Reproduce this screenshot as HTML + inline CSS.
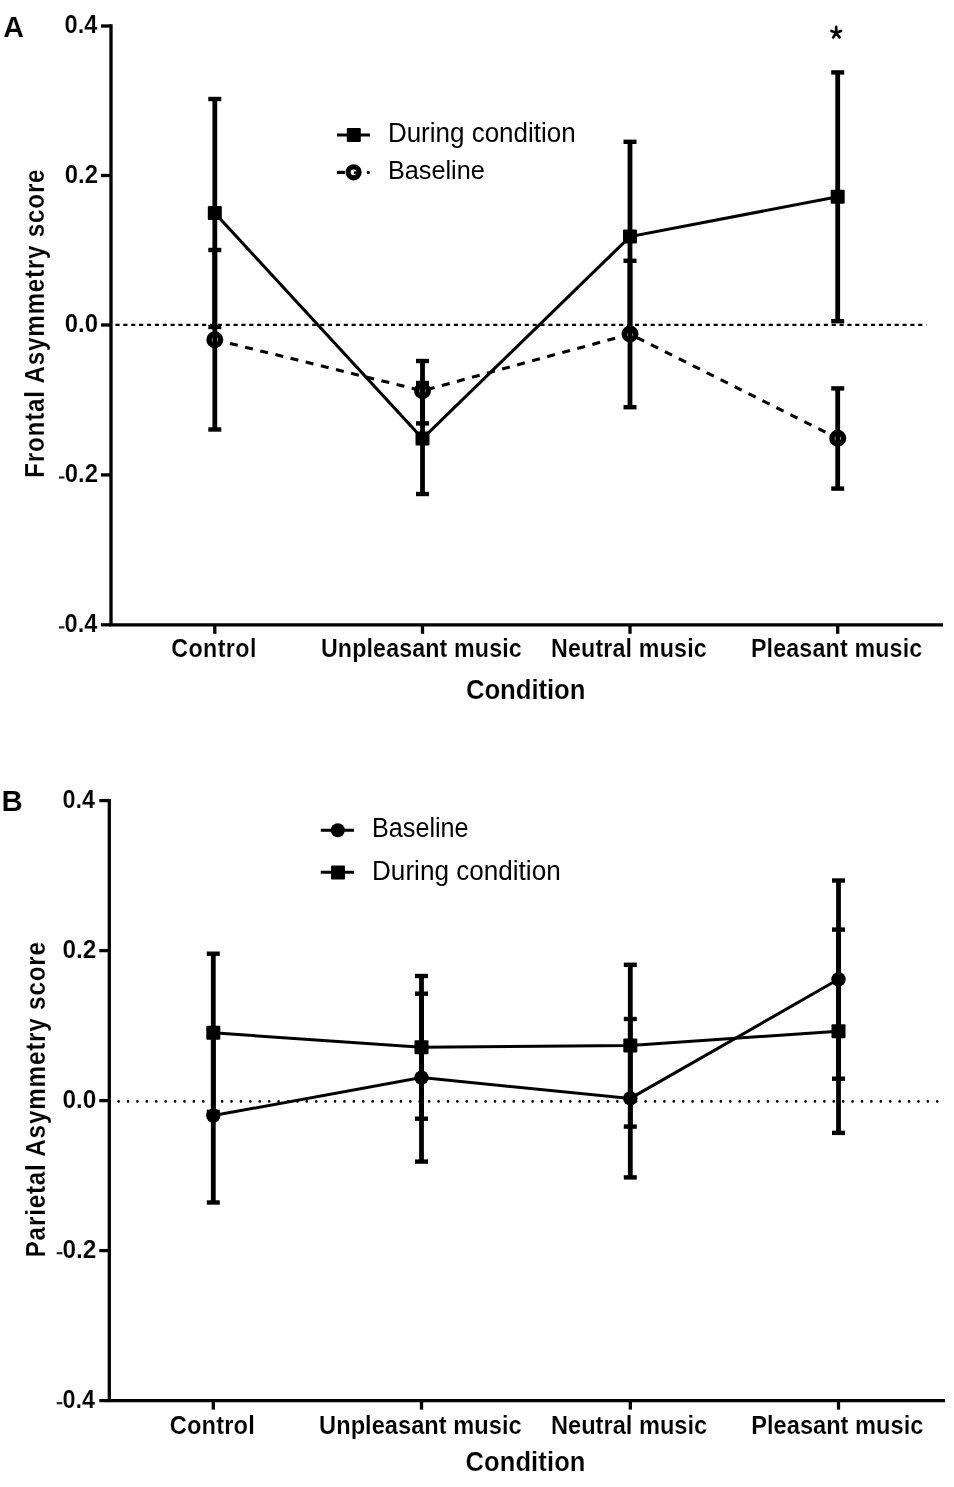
<!DOCTYPE html><html><head><meta charset="utf-8"><style>html,body{margin:0;padding:0;background:#fff;}svg{display:block;will-change:transform}text{font-family:"Liberation Sans",sans-serif;fill:#000}.b{font-weight:bold;stroke:#fff;stroke-width:0.15px}</style></head><body>
<svg width="954" height="1487" viewBox="0 0 954 1487">
<rect width="954" height="1487" fill="#fff"/>
<path d="M111 24.35 V624.8 H943" fill="none" stroke="#000" stroke-width="3.3"/>
<line x1="101" y1="26" x2="111" y2="26" stroke="#000" stroke-width="3.3"/>
<text class="b" x="64.48" y="33.3" font-size="25.29" textLength="32.9" lengthAdjust="spacingAndGlyphs">0.4</text>
<line x1="101" y1="175.5" x2="111" y2="175.5" stroke="#000" stroke-width="3.3"/>
<text class="b" x="64.76" y="182.8" font-size="25.29" textLength="33.25" lengthAdjust="spacingAndGlyphs">0.2</text>
<line x1="101" y1="325" x2="111" y2="325" stroke="#000" stroke-width="3.3"/>
<text class="b" x="64.76" y="332.3" font-size="25.29" textLength="33.25" lengthAdjust="spacingAndGlyphs">0.0</text>
<line x1="101" y1="474.9" x2="111" y2="474.9" stroke="#000" stroke-width="3.3"/>
<text class="b" x="64.76" y="482.2" font-size="25.29" textLength="33.25" lengthAdjust="spacingAndGlyphs">0.2</text>
<line x1="58.9" y1="477.5" x2="64.4" y2="477.5" stroke="#222" stroke-width="2.2"/>
<line x1="101" y1="624.8" x2="111" y2="624.8" stroke="#000" stroke-width="3.3"/>
<text class="b" x="64.48" y="632.1" font-size="25.29" textLength="32.9" lengthAdjust="spacingAndGlyphs">0.4</text>
<line x1="58.9" y1="627.4" x2="64.4" y2="627.4" stroke="#222" stroke-width="2.2"/>
<line x1="214.8" y1="624.8" x2="214.8" y2="633.8" stroke="#000" stroke-width="3.3"/>
<line x1="422.5" y1="624.8" x2="422.5" y2="633.8" stroke="#000" stroke-width="3.3"/>
<line x1="630" y1="624.8" x2="630" y2="633.8" stroke="#000" stroke-width="3.3"/>
<line x1="837.7" y1="624.8" x2="837.7" y2="633.8" stroke="#000" stroke-width="3.3"/>
<line x1="115.5" y1="324.8" x2="926.5" y2="324.8" stroke="#000" stroke-width="2.3" stroke-dasharray="4.1 3.77"/>
<path d="M214.8 339.7 L422.5 390.8 L630 334.1 L837.7 438.3" fill="none" stroke="#000" stroke-width="3.1" stroke-dasharray="8 7.6" stroke-dashoffset="0"/>
<path d="M214.8 213 L422.5 438.5 L630 236.6 L837.7 196.7" fill="none" stroke="#000" stroke-width="3.1"/>
<circle cx="214.8" cy="339.7" r="5.75" fill="#fff" stroke="#000" stroke-width="5.5"/>
<line x1="214.8" y1="250" x2="214.8" y2="429.5" stroke="#000" stroke-width="4.8"/>
<line x1="208.3" y1="250" x2="221.3" y2="250" stroke="#000" stroke-width="4.4"/>
<line x1="208.3" y1="429.5" x2="221.3" y2="429.5" stroke="#000" stroke-width="4.4"/>
<circle cx="422.5" cy="390.8" r="5.75" fill="#fff" stroke="#000" stroke-width="5.5"/>
<line x1="422.5" y1="361" x2="422.5" y2="423.4" stroke="#000" stroke-width="4.8"/>
<line x1="416" y1="361" x2="429" y2="361" stroke="#000" stroke-width="4.4"/>
<line x1="416" y1="423.4" x2="429" y2="423.4" stroke="#000" stroke-width="4.4"/>
<circle cx="630" cy="334.1" r="5.75" fill="#fff" stroke="#000" stroke-width="5.5"/>
<line x1="630" y1="260.8" x2="630" y2="407.2" stroke="#000" stroke-width="4.8"/>
<line x1="623.5" y1="260.8" x2="636.5" y2="260.8" stroke="#000" stroke-width="4.4"/>
<line x1="623.5" y1="407.2" x2="636.5" y2="407.2" stroke="#000" stroke-width="4.4"/>
<circle cx="837.7" cy="438.3" r="5.75" fill="#fff" stroke="#000" stroke-width="5.5"/>
<line x1="837.7" y1="388.4" x2="837.7" y2="488.6" stroke="#000" stroke-width="4.8"/>
<line x1="831.2" y1="388.4" x2="844.2" y2="388.4" stroke="#000" stroke-width="4.4"/>
<line x1="831.2" y1="488.6" x2="844.2" y2="488.6" stroke="#000" stroke-width="4.4"/>
<line x1="214.8" y1="99" x2="214.8" y2="327" stroke="#000" stroke-width="4.8"/>
<line x1="208.3" y1="99" x2="221.3" y2="99" stroke="#000" stroke-width="4.4"/>
<line x1="208.3" y1="327" x2="221.3" y2="327" stroke="#000" stroke-width="4.4"/>
<rect x="207.8" y="206" width="14" height="14" rx="1" fill="#000"/>
<line x1="422.5" y1="383" x2="422.5" y2="494" stroke="#000" stroke-width="4.8"/>
<line x1="416" y1="383" x2="429" y2="383" stroke="#000" stroke-width="4.4"/>
<line x1="416" y1="494" x2="429" y2="494" stroke="#000" stroke-width="4.4"/>
<rect x="415.5" y="431.5" width="14" height="14" rx="1" fill="#000"/>
<line x1="630" y1="141.8" x2="630" y2="331.4" stroke="#000" stroke-width="4.8"/>
<line x1="623.5" y1="141.8" x2="636.5" y2="141.8" stroke="#000" stroke-width="4.4"/>
<line x1="623.5" y1="331.4" x2="636.5" y2="331.4" stroke="#000" stroke-width="4.4"/>
<rect x="623" y="229.6" width="14" height="14" rx="1" fill="#000"/>
<line x1="837.7" y1="72.4" x2="837.7" y2="321.2" stroke="#000" stroke-width="4.8"/>
<line x1="831.2" y1="72.4" x2="844.2" y2="72.4" stroke="#000" stroke-width="4.4"/>
<line x1="831.2" y1="321.2" x2="844.2" y2="321.2" stroke="#000" stroke-width="4.4"/>
<rect x="830.7" y="189.7" width="14" height="14" rx="1" fill="#000"/>
<path d="M836.2 32.8 L836.2 26.8 M836.2 32.8 L831.5 31 M836.2 32.8 L841 31 M836.2 32.8 L833.2 37.4 M836.2 32.8 L839.5 37.4" stroke="#000" stroke-width="2.7" stroke-linecap="round" fill="none"/>
<line x1="337" y1="135" x2="370" y2="135" stroke="#000" stroke-width="3.2"/>
<rect x="346.8" y="128" width="14" height="14" rx="1" fill="#000"/>
<line x1="337" y1="172.4" x2="345" y2="172.4" stroke="#000" stroke-width="3.2"/>
<circle cx="368.3" cy="172.4" r="1.6" fill="#000"/>
<circle cx="353.6" cy="172.3" r="5.5" fill="#fff" stroke="#000" stroke-width="5.2"/>
<line x1="353.8" y1="172.6" x2="358" y2="172.6" stroke="#000" stroke-width="2.4"/>
<text x="387.9" y="142.2" font-size="27" textLength="187.81" lengthAdjust="spacingAndGlyphs">During condition</text>
<text x="387.9" y="179.4" font-size="26.14" textLength="96.94" lengthAdjust="spacingAndGlyphs">Baseline</text>
<text class="b" transform="translate(171.28 656.8) scale(0.93 1)" font-size="25" textLength="91.52" lengthAdjust="spacing">Control</text>
<text class="b" transform="translate(320.94 656.8) scale(0.93 1)" font-size="25" textLength="215.9" lengthAdjust="spacing">Unpleasant music</text>
<text class="b" transform="translate(550.94 656.8) scale(0.93 1)" font-size="25" textLength="167.51" lengthAdjust="spacing">Neutral music</text>
<text class="b" transform="translate(750.94 656.8) scale(0.93 1)" font-size="25" textLength="184.18" lengthAdjust="spacing">Pleasant music</text>
<text class="b" transform="translate(465.94 699.2) scale(0.93 1)" font-size="27.71" textLength="128.47" lengthAdjust="spacing">Condition</text>
<text class="b" transform="rotate(-90) translate(-477.77 44.4) scale(0.88 1)" font-size="27.43" textLength="350.36" lengthAdjust="spacing">Frontal Asymmetry score</text>
<text class="b" x="3.36" y="36.9" font-size="29.71" textLength="20.72" lengthAdjust="spacingAndGlyphs">A</text>
<path d="M109.3 798.95 V1400.6 H945" fill="none" stroke="#000" stroke-width="3.3"/>
<line x1="99.3" y1="800.6" x2="109.3" y2="800.6" stroke="#000" stroke-width="3.3"/>
<text class="b" x="62.48" y="807.9" font-size="25.29" textLength="32.52" lengthAdjust="spacingAndGlyphs">0.4</text>
<line x1="99.3" y1="950.6" x2="109.3" y2="950.6" stroke="#000" stroke-width="3.3"/>
<text class="b" x="62.48" y="957.9" font-size="25.29" textLength="33.92" lengthAdjust="spacingAndGlyphs">0.2</text>
<line x1="99.3" y1="1100.6" x2="109.3" y2="1100.6" stroke="#000" stroke-width="3.3"/>
<text class="b" x="62.48" y="1107.9" font-size="25.29" textLength="33.92" lengthAdjust="spacingAndGlyphs">0.0</text>
<line x1="99.3" y1="1250.6" x2="109.3" y2="1250.6" stroke="#000" stroke-width="3.3"/>
<text class="b" x="62.48" y="1257.9" font-size="25.29" textLength="33.92" lengthAdjust="spacingAndGlyphs">0.2</text>
<line x1="56.7" y1="1253.2" x2="62.4" y2="1253.2" stroke="#222" stroke-width="2.2"/>
<line x1="99.3" y1="1400.6" x2="109.3" y2="1400.6" stroke="#000" stroke-width="3.3"/>
<text class="b" x="62.48" y="1407.9" font-size="25.29" textLength="32.52" lengthAdjust="spacingAndGlyphs">0.4</text>
<line x1="56.7" y1="1403.2" x2="62.4" y2="1403.2" stroke="#222" stroke-width="2.2"/>
<line x1="213.3" y1="1400.6" x2="213.3" y2="1409.6" stroke="#000" stroke-width="3.3"/>
<line x1="421.5" y1="1400.6" x2="421.5" y2="1409.6" stroke="#000" stroke-width="3.3"/>
<line x1="630.3" y1="1400.6" x2="630.3" y2="1409.6" stroke="#000" stroke-width="3.3"/>
<line x1="838.5" y1="1400.6" x2="838.5" y2="1409.6" stroke="#000" stroke-width="3.3"/>
<line x1="118.6" y1="1101.4" x2="938" y2="1101.4" stroke="#000" stroke-width="2.7" stroke-linecap="round" stroke-dasharray="0 9.41"/>
<path d="M213.3 1115.6 L421.5 1077.6 L630.3 1098.4 L838.5 979.3" fill="none" stroke="#000" stroke-width="3.0"/>
<path d="M213.3 1032.8 L421.5 1047.3 L630.3 1045.5 L838.5 1031.2" fill="none" stroke="#000" stroke-width="3.0"/>
<line x1="213.3" y1="1028.7" x2="213.3" y2="1202.5" stroke="#000" stroke-width="4.8"/>
<line x1="206.8" y1="1028.7" x2="219.8" y2="1028.7" stroke="#000" stroke-width="4.4"/>
<line x1="206.8" y1="1202.5" x2="219.8" y2="1202.5" stroke="#000" stroke-width="4.4"/>
<line x1="213.3" y1="953.7" x2="213.3" y2="1111.9" stroke="#000" stroke-width="4.8"/>
<line x1="206.8" y1="953.7" x2="219.8" y2="953.7" stroke="#000" stroke-width="4.4"/>
<line x1="206.8" y1="1111.9" x2="219.8" y2="1111.9" stroke="#000" stroke-width="4.4"/>
<line x1="421.5" y1="993.7" x2="421.5" y2="1161.6" stroke="#000" stroke-width="4.8"/>
<line x1="415" y1="993.7" x2="428" y2="993.7" stroke="#000" stroke-width="4.4"/>
<line x1="415" y1="1161.6" x2="428" y2="1161.6" stroke="#000" stroke-width="4.4"/>
<line x1="421.5" y1="976" x2="421.5" y2="1118.7" stroke="#000" stroke-width="4.8"/>
<line x1="415" y1="976" x2="428" y2="976" stroke="#000" stroke-width="4.4"/>
<line x1="415" y1="1118.7" x2="428" y2="1118.7" stroke="#000" stroke-width="4.4"/>
<line x1="630.3" y1="1019" x2="630.3" y2="1177.4" stroke="#000" stroke-width="4.8"/>
<line x1="623.8" y1="1019" x2="636.8" y2="1019" stroke="#000" stroke-width="4.4"/>
<line x1="623.8" y1="1177.4" x2="636.8" y2="1177.4" stroke="#000" stroke-width="4.4"/>
<line x1="630.3" y1="964.8" x2="630.3" y2="1126.6" stroke="#000" stroke-width="4.8"/>
<line x1="623.8" y1="964.8" x2="636.8" y2="964.8" stroke="#000" stroke-width="4.4"/>
<line x1="623.8" y1="1126.6" x2="636.8" y2="1126.6" stroke="#000" stroke-width="4.4"/>
<line x1="838.5" y1="880.5" x2="838.5" y2="1078.7" stroke="#000" stroke-width="4.8"/>
<line x1="832" y1="880.5" x2="845" y2="880.5" stroke="#000" stroke-width="4.4"/>
<line x1="832" y1="1078.7" x2="845" y2="1078.7" stroke="#000" stroke-width="4.4"/>
<line x1="838.5" y1="929.6" x2="838.5" y2="1132.9" stroke="#000" stroke-width="4.8"/>
<line x1="832" y1="929.6" x2="845" y2="929.6" stroke="#000" stroke-width="4.4"/>
<line x1="832" y1="1132.9" x2="845" y2="1132.9" stroke="#000" stroke-width="4.4"/>
<circle cx="213.3" cy="1115.6" r="7.2" fill="#000"/>
<rect x="206.3" y="1025.8" width="14" height="14" rx="1" fill="#000"/>
<circle cx="421.5" cy="1077.6" r="7.2" fill="#000"/>
<rect x="414.5" y="1040.3" width="14" height="14" rx="1" fill="#000"/>
<circle cx="630.3" cy="1098.4" r="7.2" fill="#000"/>
<rect x="623.3" y="1038.5" width="14" height="14" rx="1" fill="#000"/>
<circle cx="838.5" cy="979.3" r="7.2" fill="#000"/>
<rect x="831.5" y="1024.2" width="14" height="14" rx="1" fill="#000"/>
<line x1="320.8" y1="830.2" x2="354" y2="830.2" stroke="#000" stroke-width="2.9"/>
<circle cx="337.8" cy="830.2" r="7" fill="#000"/>
<line x1="320.8" y1="872.2" x2="354" y2="872.2" stroke="#000" stroke-width="2.9"/>
<rect x="331" y="865.5" width="14" height="14" rx="1" fill="#000"/>
<text x="372.02" y="837.2" font-size="27" textLength="96.62" lengthAdjust="spacingAndGlyphs">Baseline</text>
<text x="372.02" y="879.8" font-size="27" textLength="188.69" lengthAdjust="spacingAndGlyphs">During condition</text>
<text class="b" transform="translate(169.78 1434.1) scale(0.93 1)" font-size="25.43" textLength="91.37" lengthAdjust="spacing">Control</text>
<text class="b" transform="translate(319.08 1434.1) scale(0.93 1)" font-size="25.43" textLength="217.9" lengthAdjust="spacing">Unpleasant music</text>
<text class="b" transform="translate(550.94 1434.1) scale(0.93 1)" font-size="25.43" textLength="168.05" lengthAdjust="spacing">Neutral music</text>
<text class="b" transform="translate(751.26 1434.1) scale(0.93 1)" font-size="25.43" textLength="185.08" lengthAdjust="spacing">Pleasant music</text>
<text class="b" transform="translate(465.44 1471.1) scale(0.93 1)" font-size="27.43" textLength="129.01" lengthAdjust="spacing">Condition</text>
<text class="b" transform="rotate(-90) translate(-1257.36 44.8) scale(0.88 1)" font-size="27.57" textLength="358.39" lengthAdjust="spacing">Parietal Asymmetry score</text>
<text class="b" x="1.52" y="810.8" font-size="30.14" textLength="21.27" lengthAdjust="spacingAndGlyphs">B</text>
</svg></body></html>
